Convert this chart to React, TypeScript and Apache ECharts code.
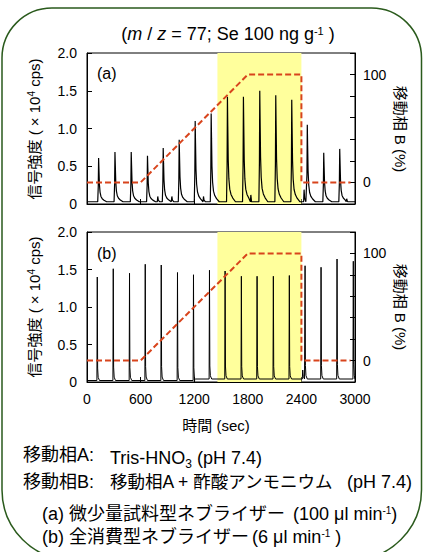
import React, { useEffect, useRef } from 'react';
import * as echarts from 'echarts';

const FONT = '"Liberation Sans", Arial, "Noto Sans CJK JP", sans-serif';

// ---- data ----
const TIME_MIN = 0;
const TIME_MAX = 3000;
const TIME_INTERVAL = 600;
const SIGNAL_MAX = 2.0;
const SIGNAL_INTERVAL = 0.5;
const B_MIN = -20;
const B_MAX = 120;
const B_INTERVAL = 20;
const B_LABELS = [0, 100];

// (a) micro-flow nebulizer: peak apex times (sec) and heights (x10^4 cps)
const PEAK_TIMES_A = [130, 313, 495, 677, 853, 1032, 1211, 1390, 1572, 1751, 1934, 2113, 2292, 2466, 2650, 2829];
const PEAK_HEIGHTS_A = [0.61, 0.69, 0.69, 0.64, 0.74, 0.85, 1.1, 1.2, 1.42, 1.42, 1.5, 1.44, 1.38, 1.05, 0.68, 0.73];
const BLIP_TIMES_A = [792, 950, 1304, 1834, 2430, 2907];
const BLIP_HEIGHTS_A = [0.1, 0.1, 0.1, 0.12, 0.19, 0.07];
const BASE_TIMES_A = [0];
const BASE_LEVELS_A = [0.03];

// (b) total consumption nebulizer
const PEAK_TIMES_B = [115, 294, 476, 652, 831, 1013, 1192, 1371, 1546, 1728, 1904, 2086, 2265, 2441, 2620, 2799, 2981];
const PEAK_HEIGHTS_B = [1.4, 1.51, 1.45, 1.57, 1.56, 1.46, 1.43, 1.49, 1.48, 1.41, 1.41, 1.41, 1.42, 1.55, 1.53, 1.64, 1.61];
const BLIP_TIMES_B = [2415];
const BLIP_HEIGHTS_B = [0.16];
const BASE_TIMES_B = [0, 1205];
const BASE_LEVELS_B = [0.02, 0.04];

// peak shapes (time offset in sec, fraction of apex above baseline)
const SHAPE_A_OFFSETS = [-10, -4, 0, 4, 9, 16, 26, 40, 60, 90];
const SHAPE_A_FRACS = [0, 0.35, 1, 0.72, 0.4, 0.22, 0.12, 0.07, 0.035, 0];
const SHAPE_B_OFFSETS = [-4, 0, 4, 10, 25];
const SHAPE_B_FRACS = [0, 1, 0.12, 0.03, 0];
const BLIP_OFFSETS = [-5, 0, 6, 20];
const BLIP_FRACS = [0, 1, 0.3, 0];

// mobile phase B gradient (%)
const GRADIENT_TIMES = [0, 600, 1800, 2400, 2400, 2950];
const GRADIENT_B = [0, 0, 100, 100, 0, 0];

// highlighted band (sec)
const BAND_START = 1460;
const BAND_END = 2400;

function buildTrace(
  peakT: number[], peakH: number[], blipT: number[], blipH: number[],
  offs: number[], fracs: number[], baseT: number[], baseV: number[]
) {
  const baseAt = (t: number) => {
    let v = baseV[0];
    for (let i = 0; i < baseT.length; i++) if (t >= baseT[i]) v = baseV[i];
    return v;
  };
  const pts: number[][] = [];
  pts.push([TIME_MIN, baseAt(TIME_MIN)]);
  for (let i = 1; i < baseT.length; i++) {
    pts.push([baseT[i] - 0.5, baseV[i - 1]]);
    pts.push([baseT[i], baseV[i]]);
  }
  peakT.forEach((t, i) => {
    offs.forEach((o, k) => {
      const tt = Math.min(TIME_MAX, t + o);
      const b = baseAt(tt);
      pts.push([tt, b + fracs[k] * (peakH[i] - b)]);
    });
  });
  blipT.forEach((t, i) => {
    BLIP_OFFSETS.forEach((o, k) => {
      const tt = t + o;
      const b = baseAt(tt);
      pts.push([tt, b + BLIP_FRACS[k] * (blipH[i] - b)]);
    });
  });
  pts.push([TIME_MAX, baseAt(TIME_MAX)]);
  pts.sort((a, b) => a[0] - b[0]);
  return pts;
}

const SUP = { fontSize: 10, fontFamily: FONT, verticalAlign: 'top', lineHeight: 10 };
const SUB = { fontSize: 12, fontFamily: FONT, verticalAlign: 'bottom', lineHeight: 10 };

function txt(text: string, x: number, y: number, fontSize: number, align: string = 'left', rich: any = undefined, lineHeight: any = undefined, rotation = 0) {
  return {
    type: 'text',
    x,
    y,
    rotation,
    silent: true,
    style: {
      text,
      fontSize,
      fontFamily: FONT,
      fill: '#000',
      align,
      verticalAlign: 'middle',
      rich,
      lineHeight,
    },
  };
}

const BT = 18; // bottom text font size
const Y_NAME = '信号強度 ( × 10{sup|4} cps)';
const B_NAME = '移動相 B (%)';

export default function App() {
  const ref = useRef<HTMLDivElement>(null);

  useEffect(() => {
    document.body.style.margin = '0';
    if (!ref.current) return;
    const chart = echarts.init(ref.current, undefined, { renderer: 'svg' });

    const traceA = buildTrace(PEAK_TIMES_A, PEAK_HEIGHTS_A, BLIP_TIMES_A, BLIP_HEIGHTS_A,
      SHAPE_A_OFFSETS, SHAPE_A_FRACS, BASE_TIMES_A, BASE_LEVELS_A);
    const traceB = buildTrace(PEAK_TIMES_B, PEAK_HEIGHTS_B, BLIP_TIMES_B, BLIP_HEIGHTS_B,
      SHAPE_B_OFFSETS, SHAPE_B_FRACS, BASE_TIMES_B, BASE_LEVELS_B);
    const gradient = GRADIENT_TIMES.map((t, i) => [t, GRADIENT_B[i]]);

    const grids = [
      { left: 87, right: 68, top: 53, height: 151 },
      { left: 87, right: 68, top: 232, height: 150 },
    ];

    const xAxes = [0, 1].map((i) => ({
      type: 'value',
      gridIndex: i,
      min: TIME_MIN,
      max: TIME_MAX,
      interval: TIME_INTERVAL,
      axisLine: { show: true, onZero: false, lineStyle: { color: '#000', width: 1 } },
      axisTick: { show: true, inside: true, length: 5, lineStyle: { color: '#000' } },
      axisLabel: {
        show: i === 1, fontSize: 14, color: '#000', fontFamily: FONT, margin: 10,
        formatter: (v: number) => String(v),
      },
      splitLine: { show: false },
      name: i === 1 ? '時間 (sec)' : '',
      nameLocation: 'middle',
      nameGap: 36,
      nameTextStyle: { fontSize: 15, color: '#000', fontFamily: FONT, padding: [0, 10, 0, 0] },
    }));

    const yAxes: any[] = [];
    [0, 1].forEach((i) => {
      yAxes.push({
        type: 'value',
        gridIndex: i,
        position: 'left',
        min: 0,
        max: SIGNAL_MAX,
        interval: SIGNAL_INTERVAL,
        axisLine: { show: true, lineStyle: { color: '#000' } },
        axisTick: { show: true, inside: true, length: 5, lineStyle: { color: '#000' } },
        axisLabel: {
          fontSize: 14, color: '#000', fontFamily: FONT, margin: 10,
          formatter: (v: number) => (v === 0 ? '0' : v.toFixed(1)),
        },
        splitLine: { show: false },
      });
      yAxes.push({
        type: 'value',
        gridIndex: i,
        position: 'right',
        min: B_MIN,
        max: B_MAX,
        interval: B_INTERVAL,
        axisLine: { show: true, lineStyle: { color: '#000' } },
        axisTick: { show: true, inside: true, length: 5, lineStyle: { color: '#000' } },
        axisLabel: {
          fontSize: 14, color: '#000', fontFamily: FONT, margin: 8,
          formatter: (v: number) => (B_LABELS.includes(v) ? String(v) : ''),
        },
        splitLine: { show: false },
      });
    });

    const series: any[] = [];
    [traceA, traceB].forEach((data, i) => {
      series.push({
        type: 'line',
        name: i === 0 ? 'signal (a)' : 'signal (b)',
        xAxisIndex: i,
        yAxisIndex: i * 2,
        data,
        showSymbol: false,
        symbol: 'none',
        lineStyle: { color: '#000', width: i === 0 ? 1.2 : 1 },
        z: 3,
        markArea: {
          silent: true,
          itemStyle: { color: '#ffff9c' },
          data: [[{ xAxis: BAND_START }, { xAxis: BAND_END }]],
        },
      });
      series.push({
        type: 'line',
        name: 'B (%)',
        xAxisIndex: i,
        yAxisIndex: i * 2 + 1,
        data: gradient,
        showSymbol: false,
        symbol: 'none',
        lineStyle: { color: '#d8441c', width: 2, type: [6, 3] },
        z: 4,
      });
    });

    const graphic: any[] = [
      {
        type: 'rect',
        silent: true,
        shape: { x: 2, y: 8, width: 419.5, height: 552, r: [50, 50, 70, 70] },
        style: { fill: 'none', stroke: '#2a5a1c', lineWidth: 1.5 },
        z: 0,
      },
      txt('({i|m} / {i|z} = 77; Se 100 ng g{sup|-1} )', 228, 34, 18, 'center', {
        i: { fontSize: 18, fontStyle: 'italic', fontFamily: FONT },
        sup: { ...SUP, fontSize: 11 },
      }),
      txt('(a)', 97, 73, 16),
      txt('(b)', 97, 253, 16),
      txt(Y_NAME, 34, 129, 15, 'center', { sup: SUP }, undefined, Math.PI / 2),
      txt(Y_NAME, 34, 307, 15, 'center', { sup: SUP }, undefined, Math.PI / 2),
      txt(B_NAME, 400, 129, 15, 'center', undefined, undefined, -Math.PI / 2),
      txt(B_NAME, 400, 307, 15, 'center', undefined, undefined, -Math.PI / 2),
      txt('移動相A:', 23, 455, BT),
      txt('Tris-HNO{sub|3} (pH 7.4)', 110, 458, BT, 'left', { sub: SUB }, 24),
      txt('移動相B:', 23, 482, BT),
      txt('移動相A + 酢酸アンモニウム', 110, 482, 17.5),
      txt('(pH 7.4)', 347, 482, BT),
      txt('(a) 微少量試料型ネブライザー', 42, 514, BT),
      txt('(100 μl min{sup|-1})', 293, 514, BT, 'left', { sup: SUP }),
      txt('(b) 全消費型ネブライザー', 42, 537, BT),
      txt('(6 μl min{sup|-1} )', 252, 537, BT, 'left', { sup: SUP }),
    ];

    chart.setOption({
      animation: false,
      backgroundColor: '#fff',
      textStyle: { fontFamily: FONT },
      grid: grids.map((g) => ({ ...g, show: true, borderColor: '#000', borderWidth: 1, backgroundColor: 'transparent' })),
      xAxis: xAxes,
      yAxis: yAxes,
      series,
      graphic,
    });

    return () => chart.dispose();
  }, []);

  return (
    <div
      ref={ref}
      style={{ position: 'fixed', left: 0, top: 0, width: 423, height: 552, background: '#fff' }}
    />
  );
}
